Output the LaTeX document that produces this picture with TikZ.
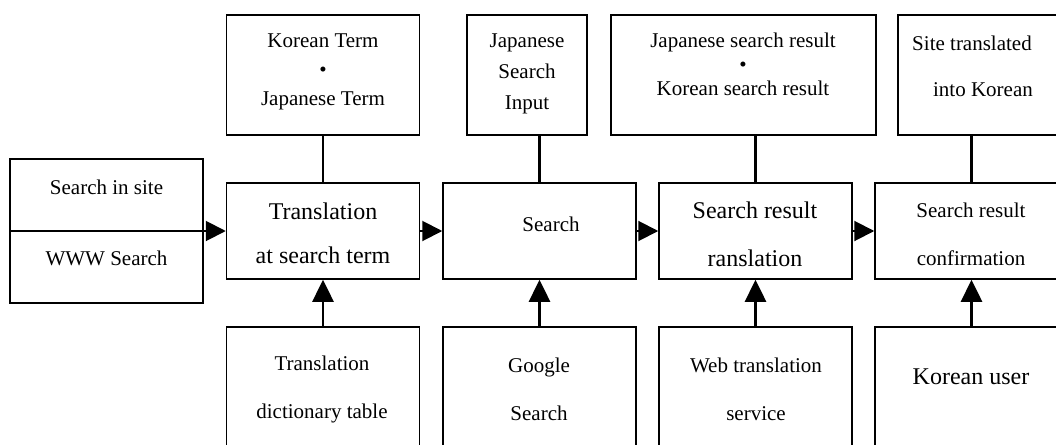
\documentclass[tikz,border=0pt]{standalone}
\usepackage{fontspec}
\setmainfont{Liberation Serif}
\usetikzlibrary{arrows.meta}

\begin{document}
\begin{tikzpicture}[x=1pt,y=-1pt,
  box/.style={draw,line width=1.5pt,inner sep=0pt,minimum width=193pt},
  sm/.style={font=\fontsize{21}{25}\selectfont,align=center,inner sep=0pt},
  lg/.style={font=\fontsize{24}{28}\selectfont,align=center,inner sep=0pt},
  link/.style={line width=2.5pt},
  arr/.style={line width=2pt,-{Triangle[length=20pt,width=20pt]}},
  up/.style={line width=2.5pt,-{Triangle[length=22pt,width=21pt]}}]
\useasboundingbox (0,0) rectangle (1056,444);\clip (0,0) rectangle (1056,444);
% middle row
\node[box,minimum height=144pt] (src) at (106.5,231){};
\node[box,minimum height=96pt] (tr) at (323,231){};\node[box,minimum height=96pt] (se) at (539.5,231){};
\node[box,minimum height=96pt] (rt) at (755.5,231){};\node[box,minimum height=96pt] (cf) at (971.5,231){};
\draw[line width=1.5pt] (src.west)--(src.east);
% top row
\node[box,minimum height=120pt] (term) at (323,75){};
\node[box,minimum width=120pt,minimum height=120pt] (inp) at (527,75){};
\node[box,minimum width=265pt,minimum height=120pt] (res) at (743.5,75){};
\node[box,minimum width=177pt,minimum height=120pt] (site) at (986.5,75){};
% bottom row
\node[box,minimum height=143pt] (dict) at (323,398.5){};\node[box,minimum height=143pt] (ggl) at (539.5,398.5){};
\node[box,minimum height=143pt] (web) at (755.5,398.5){};\node[box,minimum height=143pt] (usr) at (971.5,398.5){};
% texts
\node[sm] (src1) at (106.5,187){Search in site};\node[sm] (src2) at (106.5,258){WWW Search};
\node[lg] (trt) at (323,233){Translation\\[16pt]at search term};
\node[sm] (set) at (551,224){Search};
\node[lg] (rtt) at (755,234){Search result\\[20pt]ranslation};
\node[sm] (cft) at (971,234){Search result\\[23pt]confirmation};
\node[sm] (termt) at (323,72){Korean Term\\[4pt]•\\[4pt]Japanese Term};
\node[sm] (inpt) at (527,74){Japanese\\[6pt]Search\\[6pt]Input};
\node[sm] (rest) at (743,64){Japanese search result\\[-1pt]•\\[-1pt]Korean search result};
\node[sm] (site1) at (972,43){Site translated};\node[sm] (site2) at (983,90){into Korean};
\node[sm] (dictt) at (322,389){Translation\\[23pt]dictionary table};
\node[sm] (gglt) at (539,389){Google\\[23pt]Search};
\node[sm] (webt) at (756,389){Web translation\\[23pt]service};
\node[lg] (usrt) at (971,377){Korean user};
% connectors
\draw[arr] (src)--(tr);\draw[arr] (tr)--(se);\draw[arr] (se)--(rt);\draw[arr] (rt)--(cf);
\draw[link] (term)--(tr);\draw[link] (se.north |- inp.south)--(se.north);
\draw[link] (rt.north |- res.south)--(rt.north);\draw[link] (cf.north |- site.south)--(cf.north);
\draw[up] (dict)--(tr);\draw[up] (ggl)--(se);\draw[up] (web)--(rt);\draw[up] (usr)--(cf);
\end{tikzpicture}
\end{document}
